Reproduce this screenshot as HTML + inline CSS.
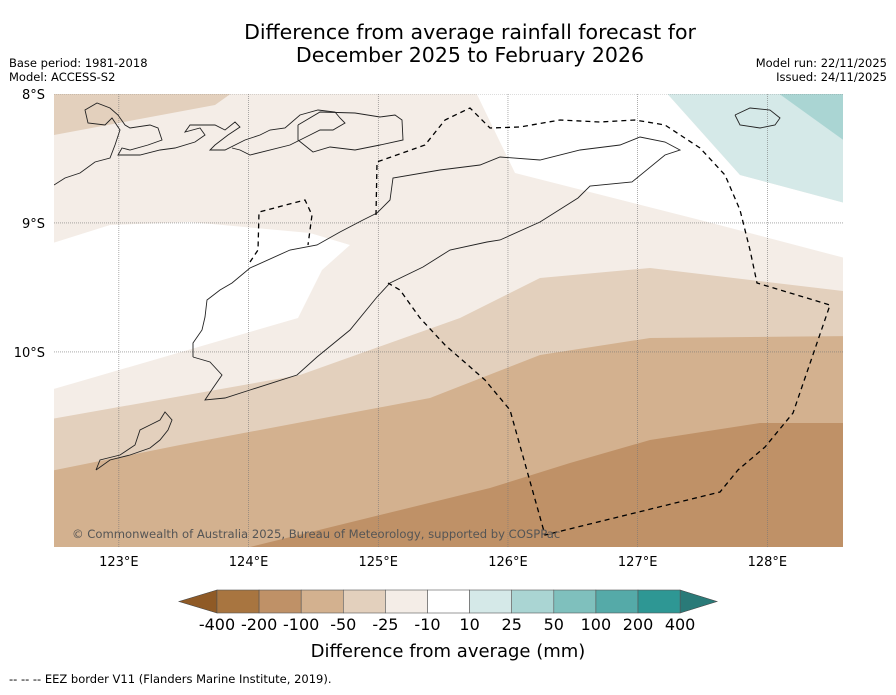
<!DOCTYPE html>
<html><head><meta charset="utf-8">
<style>
body{margin:0;background:#fff;width:896px;height:690px;overflow:hidden;font-family:"Liberation Sans","DejaVu Sans",sans-serif;}
svg text{font-family:"DejaVu Sans","Liberation Sans",sans-serif;}
</style></head>
<body>
<svg width="896" height="690">
<text x="470" y="39" font-size="20.5" text-anchor="middle">Difference from average rainfall forecast for</text>
<text x="470" y="62" font-size="20.5" text-anchor="middle">December 2025 to February 2026</text>
<text x="9" y="67" font-size="11.5">Base period: 1981-2018</text>
<text x="9" y="81" font-size="11.5">Model: ACCESS-S2</text>
<text x="887" y="67" font-size="11.5" text-anchor="end">Model run: 22/11/2025</text>
<text x="887" y="81" font-size="11.5" text-anchor="end">Issued: 24/11/2025</text>
<defs><clipPath id="mc"><rect x="54" y="94" width="789" height="453"/></clipPath></defs>
<g id="map" clip-path="url(#mc)"></g>
<g id="axes"></g>
<g id="cbar"></g>
<text x="448" y="657" font-size="18" text-anchor="middle">Difference from average (mm)</text>
<text x="9" y="683" font-size="11.5">--  --  -- EEZ border V11 (Flanders Marine Institute, 2019).</text>
</svg>
<script>
const NS="http://www.w3.org/2000/svg";
const lonTicks=[123,124,125,126,127,128];
const latTicks=[8,9,10];
const cbLabels=["-400","-200","-100","-50","-25","-10","10","25","50","100","200","400"];
const cbColors=["#a87540","#bf9167","#d3b18f","#e3d0bd","#f4ede7","#ffffff","#d5e9e8","#aad5d3","#7fc0bd","#55aaa8","#2e9794"];
const X0=54,X1=843,Y0=94,Y1=547,LON0=122.5,LON1=128.583,LAT0=8,LAT1=11.512;
function px(lon){return X0+(lon-LON0)/(LON1-LON0)*(X1-X0);}
function py(lat){return Y0+(lat-LAT0)/(LAT1-LAT0)*(Y1-Y0);}
function toLL(a){const r=[];for(let i=0;i<a.length;i+=2){r.push([LON0+(a[i]-X0)/(X1-X0)*(LON1-LON0),LAT0+(a[i+1]-Y0)/(Y1-Y0)*(LAT1-LAT0)]);}return r;}
function path(ll,close){return ll.map((p,i)=>(i?"L":"M")+px(p[0]).toFixed(1)+","+py(p[1]).toFixed(1)).join("")+(close?"Z":"");}
const map=document.getElementById("map");
function add(parent,tag,attrs){const e=document.createElementNS(NS,tag);for(const k in attrs)e.setAttribute(k,attrs[k]);parent.appendChild(e);return e;}
const fills=[
 ["bg-band-25",cbColors[4],[40,80,860,80,860,560,40,560]],
 ["band-50-top",cbColors[3],[40,80,250,80,215,105,54,135,40,140]],
 ["white-region-east",cbColors[5],[470,80,655,80,740,175,860,207,860,262,700,220,515,173]],
 ["teal-10-25",cbColors[6],[655,80,760,80,860,150,860,207,740,175]],
 ["teal-25-50",cbColors[7],[760,80,860,80,860,152]],
 ["white-region-west",cbColors[5],[40,247,110,225,190,222,310,233,350,245,322,270,298,318,40,393]],
 ["band-50",cbColors[3],[40,421,300,375,460,318,540,278,650,268,860,293,860,560,40,560]],
 ["band-100",cbColors[2],[40,473,180,445,430,398,540,355,650,338,860,336,860,560,40,560]],
 ["band-200",cbColors[1],[250,560,250,547,490,488,570,463,650,440,760,423,860,423,860,560]]
];
fills.forEach(f=>{const e=add(map,"path",{d:path(toLL(f[2]),true),fill:f[1]});

});
lonTicks.forEach(l=>{const e=add(map,"line",{x1:px(l),x2:px(l),y1:Y0,y2:Y1,stroke:"#777","stroke-width":0.6,"stroke-dasharray":"1,1"});

});
latTicks.forEach(l=>{const e=add(map,"line",{x1:X0,x2:X1,y1:py(l),y2:py(l),stroke:"#777","stroke-width":0.6,"stroke-dasharray":"1,1"});

});
const coasts=[
 ["timor-coast",[193,357,193,343,202,330,205,317,207,300,220,290,232,283,250,268,290,250,317,245,340,232,363,220,377,213,390,200,393,178,440,170,480,165,500,157,540,160,580,150,620,145,640,137,665,142,680,150,665,155,632,182,590,186,578,198,540,222,500,240,487,242,450,250,423,267,390,283,377,297,350,330,317,357,297,375,250,390,225,398,205,400,213,388,222,375,210,362,193,357]],
 ["flores-coast",[54,185,65,178,80,173,95,162,110,158,115,145,120,130,112,118,105,125,88,123,85,110,97,103,110,108,118,115,125,125,130,128,150,125,158,128,162,140,148,145,130,150,122,148,118,155,140,155,160,150,175,148,195,142,205,135,200,128,185,132,190,125,215,125,225,130,235,122,240,127,228,135,215,145,210,150,225,150,245,140,260,135,270,130,285,128,300,115,318,110,335,112,340,118,345,123,333,130,320,130,310,135,300,140,290,145,250,155,240,150,232,148]],
 ["alor-coast",[298,125,320,112,355,113,380,117,395,115,402,120,403,140,380,145,355,150,330,147,313,152,298,140,298,125]],
 ["sumba-coast",[96,470,110,460,130,455,150,448,160,440,168,430,172,420,165,412,160,420,150,425,140,430,135,445,120,455,100,460,96,470]],
 ["wetar-coast",[735,115,750,108,770,110,780,118,775,125,760,128,740,125,735,115]]
];
coasts.forEach(c=>{const e=add(map,"path",{d:path(toLL(c[1]),false),fill:"none",stroke:"#222","stroke-width":0.9});

});
const eez=[
 ["eez-oecusse",[250,262,258,250,259,212,305,200,312,215,308,245]],
 ["eez-timor-leste",[376,215,377,162,425,145,445,120,470,108,490,128,520,127,560,120,600,122,635,120,665,125,700,148,725,175,740,210,750,250,757,283,830,305,793,413,765,447,738,470,720,492,545,535,510,410,485,380,445,345,420,318,400,290,388,283]]
];
eez.forEach(c=>{const e=add(map,"path",{d:path(toLL(c[1]),false),fill:"none",stroke:"#000","stroke-width":1.3,"stroke-dasharray":"5,4"});

});
const cr=add(map,"text",{x:72,y:538,"font-size":11.6,fill:"#555"});cr.textContent="© Commonwealth of Australia 2025, Bureau of Meteorology, supported by COSPPac";


const ax=document.getElementById("axes");
lonTicks.forEach(l=>{const t=add(ax,"text",{x:px(l),y:566,"font-size":13,"text-anchor":"middle"});t.textContent=l+"°E";

});
latTicks.forEach(l=>{const t=add(ax,"text",{x:45,y:py(l)+5,"font-size":13,"text-anchor":"end"});t.textContent=l+"°S";

});
const cb=document.getElementById("cbar");
const cx0=217,cw=42.1,cy=590,ch=23;
const lt=add(cb,"polygon",{points:`${cx0},${cy} ${cx0},${cy+ch} 179,${cy+ch/2}`,fill:"#8f5a26",stroke:"#444","stroke-width":0.6});


const re=cx0+cw*cbColors.length;
const rt=add(cb,"polygon",{points:`${re},${cy} ${re},${cy+ch} 717,${cy+ch/2}`,fill:"#2a7a78",stroke:"#444","stroke-width":0.6});


cbColors.forEach((c,i)=>{const r=add(cb,"rect",{x:cx0+i*cw,y:cy,width:cw,height:ch,fill:c,stroke:"#555","stroke-width":0.6});

});
cbLabels.forEach((s,i)=>{const t=add(cb,"text",{x:cx0+i*cw,y:630,"font-size":16,"text-anchor":"middle"});t.textContent=s;

});
</script>
</body></html>
